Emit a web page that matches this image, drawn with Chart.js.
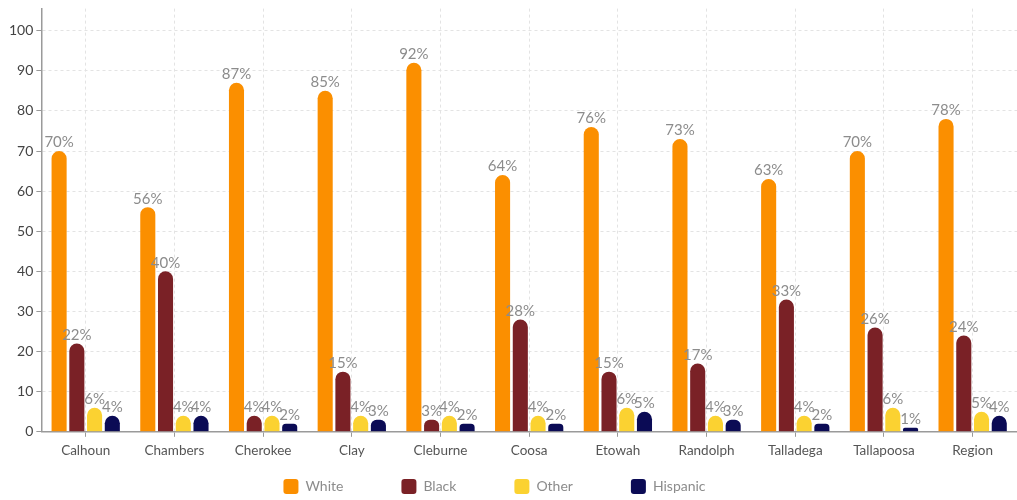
<!DOCTYPE html>
<html>
<head>
<meta charset="utf-8">
<script src="https://cdn.jsdelivr.net/npm/chart.js@4.4.1/dist/chart.umd.min.js"></script>
<style>
  html, body { margin: 0; padding: 0; background: #fff; }
  #wrap { width: 1017px; height: 500px; }
</style>
</head>
<body>
<div id="wrap"><canvas id="raceChart"></canvas></div>
<script>
const counties = ["Calhoun", "Chambers", "Cherokee", "Clay", "Cleburne", "Coosa", "Etowah", "Randolph", "Talladega", "Tallapoosa", "Region"];
const white = [70, 56, 87, 85, 92, 64, 76, 73, 63, 70, 78];
const black = [22, 40, 4, 15, 3, 28, 15, 17, 33, 26, 24];
const other = [6, 4, 4, 4, 4, 4, 6, 4, 4, 6, 5];
const hispanic = [4, 4, 2, 3, 2, 2, 5, 3, 2, 1, 4];

// percent labels above every bar
const barLabels = {
    id: "barLabels",
    afterDatasetsDraw(chart) {
        const ctx = chart.ctx;
        ctx.save();
        ctx.font = "15px Lato";
        ctx.fillStyle = "#8c8c8c";
        ctx.textAlign = "center";
        ctx.textBaseline = "bottom";
        chart.data.datasets.forEach((ds, i) => {
            chart.getDatasetMeta(i).data.forEach((bar, j) => {
                ctx.fillText(ds.data[j] + "%", bar.x, bar.y - 1);
            });
        });
        ctx.restore();
    }
};

// wide gaps between legend items without the legend eating vertical room
const LEGEND_HEIGHT = 35;
const legendSqueeze = {
    id: "legendSqueeze",
    beforeInit(chart) {
        const lg = chart.legend;
        const fit = lg.fit;
        lg.fit = function () {
            fit.call(this);
            this.height = LEGEND_HEIGHT;
        };
        const draw = lg._draw;
        lg._draw = function () {
            const c = this.ctx;
            c.save();
            c.translate(-17, -44);
            draw.call(this);
            c.restore();
        };
    }
};

function series(label, data, color) {
    return {
        label: label,
        data: data,
        backgroundColor: color,
        borderRadius: { topLeft: 8, topRight: 8 },
        borderSkipped: "bottom",
        categoryPercentage: 0.8,
        barPercentage: 0.85
    };
}

const ctx = document.getElementById("raceChart").getContext("2d");
new Chart(ctx, {
    type: "bar",
    data: {
        labels: counties,
        datasets: [
            series("White", white, "#fb8f00"),
            series("Black", black, "#7a2126"),
            series("Other", other, "#fbd231"),
            series("Hispanic", hispanic, "#0b0b55")
        ]
    },
    options: {
        responsive: true,
        maintainAspectRatio: false,
        animation: false,
        layout: { padding: { top: 0, right: 0, left: 6, bottom: 0 } },
        scales: {
            x: {
                grid: {
                    offset: false,
                    color: "#e3e3e3",
                    tickColor: "#999",
                    tickLength: 5
                },
                border: { color: "#9a9a9a", width: 1.5, dash: [3, 3] },
                ticks: { color: "#555", font: { family: "Lato", size: 13.5 }, padding: 6 }
            },
            y: {
                min: 0,
                max: 105.5,
                afterBuildTicks(axis) {
                    axis.ticks = axis.ticks.filter(t => t.value % 10 === 0);
                },
                ticks: { stepSize: 10, color: "#444", font: { family: "Lato", size: 14, lineHeight: 0.8 }, padding: 3 },
                grid: { color: "#e3e3e3", tickColor: "#999", tickLength: 5 },
                border: { color: "#9a9a9a", width: 1.5, dash: [3, 3] }
            }
        },
        plugins: {
            legend: {
                position: "bottom",
                labels: {
                    boxWidth: 15,
                    boxHeight: 15,
                    useBorderRadius: true,
                    borderRadius: 3,
                    padding: 58,
                    color: "#8c8c8c",
                    font: { family: "Lato", size: 14 }
                }
            },
            tooltip: { enabled: false }
        }
    },
    plugins: [barLabels, legendSqueeze]
});
</script>
</body>
</html>
